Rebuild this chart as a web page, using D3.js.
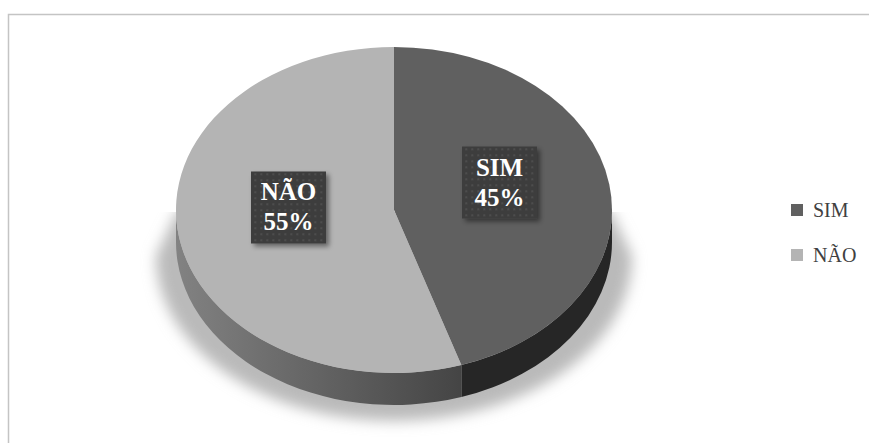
<!DOCTYPE html>
<html>
<head>
<meta charset="utf-8">
<script src="https://cdn.jsdelivr.net/npm/d3@7"></script>
<style>
  body { margin: 0; background: #fff; }
  svg { display: block; }
</style>
</head>
<body>
<div id="chart"></div>
<script>
const categories = ["SIM", "NÃO"];
const values = [45, 55];
const percentLabels = ["45%", "55%"];
const topColors = ["#606060", "#b4b4b4"];

const width = 869, height = 443;
const cx = 394, cy = 210, rx = 218, ry = 163, depth = 32;

const svg = d3.select("#chart").append("svg")
    .attr("width", width)
    .attr("height", height);

const defs = svg.append("defs");

// soft shadow under the pie
const blur = defs.append("filter").attr("id", "blur")
    .attr("x", "-20%").attr("y", "-20%").attr("width", "140%").attr("height", "140%");
blur.append("feGaussianBlur").attr("stdDeviation", 7);

const boxShadow = defs.append("filter").attr("id", "boxShadow")
    .attr("x", "-20%").attr("y", "-20%").attr("width", "150%").attr("height", "150%");
boxShadow.append("feDropShadow")
    .attr("dx", 3).attr("dy", 3).attr("stdDeviation", 2.5)
    .attr("flood-color", "#000").attr("flood-opacity", 0.45);

defs.append("clipPath").attr("id", "shadowClip")
    .append("rect").attr("x", 0).attr("y", cy + 2).attr("width", width).attr("height", height);

const sideGrad = defs.append("linearGradient").attr("id", "sideGrad")
    .attr("gradientUnits", "userSpaceOnUse")
    .attr("x1", cx - rx).attr("x2", cx + 75).attr("y1", 0).attr("y2", 0);
sideGrad.append("stop").attr("offset", "0%").attr("stop-color", "#828282");
sideGrad.append("stop").attr("offset", "100%").attr("stop-color", "#434343");

const pattern = defs.append("pattern").attr("id", "dots")
    .attr("patternUnits", "userSpaceOnUse").attr("width", 6).attr("height", 6);
pattern.append("rect").attr("width", 6).attr("height", 6).attr("fill", "#3e3e3e");
pattern.append("rect").attr("x", 2).attr("y", 2).attr("width", 1.5).attr("height", 1.5).attr("fill", "#5a5a5a");

// chart frame (top and left edges visible)
svg.append("path")
    .attr("d", `M8.5,${height} V14.5 H${width}`)
    .attr("fill", "none")
    .attr("stroke", "#c4c4c4")
    .attr("stroke-width", 1.5);

const pie = d3.pie().sort(null).value(d => d)(values);
const deg = Math.PI / 180;

function pt(a, dy = 0) {
    return [cx + rx * Math.sin(a), cy - ry * Math.cos(a) + dy];
}

function topPath(a0, a1) {
    const p0 = pt(a0), p1 = pt(a1);
    const large = a1 - a0 > Math.PI ? 1 : 0;
    return `M${cx},${cy} L${p0} A${rx},${ry} 0 ${large} 1 ${p1} Z`;
}

function sidePath(a0, a1) {
    const s0 = Math.max(a0, 90 * deg), s1 = Math.min(a1, 270 * deg);
    if (s1 <= s0) return null;
    const p0 = pt(s0), p1 = pt(s1), q1 = pt(s1, depth), q0 = pt(s0, depth);
    return `M${p0} A${rx},${ry} 0 0 1 ${p1} L${q1} A${rx},${ry} 0 0 0 ${q0} Z`;
}

// shadow: spreads outward from the pie's widest point downwards
const sp = 20, sy = cy + depth + 14;
svg.append("g").attr("clip-path", "url(#shadowClip)")
    .append("path")
    .attr("d", `M${cx - rx + 2},${cy} L${cx + rx - 2},${cy} L${cx + rx + sp},${sy}
        A${rx + sp},${ry + 2} 0 0 1 ${cx - rx - sp},${sy} Z`)
    .attr("fill", "#bababa")
    .attr("filter", "url(#blur)");

// sides
const sideFills = ["#262626", "url(#sideGrad)"];
pie.forEach((d, i) => {
    const p = sidePath(d.startAngle, d.endAngle);
    if (p) svg.append("path").attr("d", p).attr("fill", sideFills[i]);
});

// tops
svg.selectAll("path.top")
    .data(pie)
    .join("path")
    .attr("class", "top")
    .attr("d", d => topPath(d.startAngle, d.endAngle))
    .attr("fill", (d, i) => topColors[i]);

// data labels
const boxW = 75, boxH = 72;
const labelR = 0.49;
pie.forEach((d, i) => {
    const mid = (d.startAngle + d.endAngle) / 2;
    const x = cx + rx * labelR * Math.sin(mid);
    const y = cy - ry * labelR * Math.cos(mid) - 15;
    const g = svg.append("g").attr("transform", `translate(${x},${y})`);
    g.append("rect")
        .attr("x", -boxW / 2).attr("y", -boxH / 2)
        .attr("width", boxW).attr("height", boxH)
        .attr("fill", "url(#dots)")
        .attr("filter", "url(#boxShadow)");
    const t = g.append("text")
        .attr("text-anchor", "middle")
        .attr("fill", "#fff")
        .attr("font-family", "'Liberation Serif', serif")
        .attr("font-weight", "bold")
        .attr("font-size", 25);
    t.append("tspan").attr("x", 0).attr("y", -7).text(categories[i]);
    t.append("tspan").attr("x", 0).attr("y", 23).text(percentLabels[i]);
});

// legend
const legend = svg.append("g").attr("transform", "translate(791,204)");
categories.forEach((c, i) => {
    const row = legend.append("g").attr("transform", `translate(0,${i * 45})`);
    row.append("rect").attr("width", 12).attr("height", 12).attr("fill", topColors[i]);
    row.append("text")
        .attr("x", 22).attr("y", 13)
        .attr("fill", "#404040")
        .attr("font-family", "'Liberation Serif', serif")
        .attr("font-size", 20)
        .text(c);
});
</script>
</body>
</html>
